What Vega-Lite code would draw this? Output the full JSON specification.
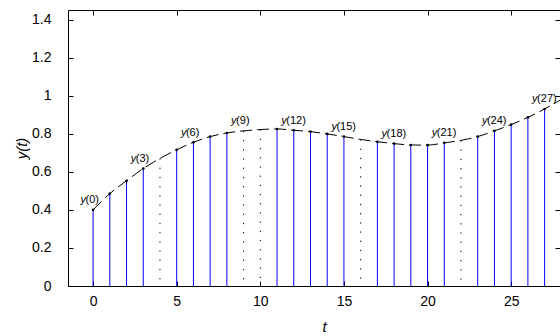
{
  "$schema": "https://vega.github.io/schema/vega-lite/v6.json",
  "autosize": {"type": "none"},
  "padding": {"left": 68, "top": 10, "right": 0, "bottom": 50},
  "width": 492,
  "height": 276,
  "config": {
    "view": {"stroke": "black", "strokeWidth": 1},
    "font": "Liberation Sans",
    "axis": {"domain": false, "grid": false, "tickColor": "black", "tickSize": -5, "labelColor": "black", "titleColor": "black", "labelFont": "Liberation Sans", "titleFont": "Liberation Sans", "labelFontSize": 14, "titleFontSize": 15, "titleFontWeight": "normal", "titleFontStyle": "italic", "format": "~g"}
  },
  "data": {"values": [
    {"t": 0, "y": 0.4, "stem": "solid", "lab": "(0)"},
    {"t": 1, "y": 0.485, "stem": "solid"},
    {"t": 2, "y": 0.553, "stem": "solid"},
    {"t": 3, "y": 0.617, "stem": "solid", "lab": "(3)"},
    {"t": 4, "y": 0.67, "stem": "dotted"},
    {"t": 5, "y": 0.716, "stem": "solid"},
    {"t": 6, "y": 0.755, "stem": "solid", "lab": "(6)"},
    {"t": 7, "y": 0.785, "stem": "solid"},
    {"t": 8, "y": 0.804, "stem": "solid"},
    {"t": 9, "y": 0.815, "stem": "dotted", "lab": "(9)"},
    {"t": 10, "y": 0.822, "stem": "dotted"},
    {"t": 11, "y": 0.825, "stem": "solid"},
    {"t": 12, "y": 0.818, "stem": "solid", "lab": "(12)"},
    {"t": 13, "y": 0.811, "stem": "solid"},
    {"t": 14, "y": 0.799, "stem": "solid"},
    {"t": 15, "y": 0.785, "stem": "solid", "lab": "(15)"},
    {"t": 16, "y": 0.77, "stem": "dotted"},
    {"t": 17, "y": 0.758, "stem": "solid"},
    {"t": 18, "y": 0.748, "stem": "solid", "lab": "(18)"},
    {"t": 19, "y": 0.741, "stem": "solid"},
    {"t": 20, "y": 0.74, "stem": "solid"},
    {"t": 21, "y": 0.752, "stem": "solid", "lab": "(21)"},
    {"t": 22, "y": 0.765, "stem": "dotted"},
    {"t": 23, "y": 0.785, "stem": "solid"},
    {"t": 24, "y": 0.815, "stem": "solid", "lab": "(24)"},
    {"t": 25, "y": 0.848, "stem": "solid"},
    {"t": 26, "y": 0.886, "stem": "solid"},
    {"t": 27, "y": 0.93, "stem": "solid", "lab": "(27)"},
    {"t": 28, "y": 0.98, "stem": "none"}
  ]},
  "resolve": {"axis": {"x": "independent", "y": "independent"}},
  "layer": [
    {
      "transform": [{"filter": "datum.stem === 'solid'"}],
      "mark": {"type": "rule", "color": "#0000ff", "strokeWidth": 1},
      "encoding": {
        "x": {"field": "t", "type": "quantitative", "scale": {"domain": [-1.5, 27.92], "nice": false, "zero": false},
              "axis": {"values": [0, 5, 10, 15, 20, 25], "title": "t", "labelPadding": 13, "titlePadding": 11, "titleX": 256}},
        "y": {"field": "y", "type": "quantitative", "scale": {"domain": [0, 1.45], "nice": false},
              "axis": {"values": [0, 0.2, 0.4, 0.6, 0.8, 1, 1.2, 1.4], "title": "y(t)", "labelPadding": 22, "titlePadding": 2}},
        "y2": {"datum": 0}
      }
    },
    {
      "transform": [{"filter": "datum.stem === 'dotted'"}],
      "mark": {"type": "rule", "color": "black", "strokeWidth": 1, "strokeDash": [1.3, 7.9]},
      "encoding": {
        "x": {"field": "t", "type": "quantitative", "axis": {"orient": "top", "values": [0, 5, 10, 15, 20, 25], "labels": false, "title": null}},
        "y": {"field": "y", "type": "quantitative", "axis": {"orient": "right", "values": [0, 0.2, 0.4, 0.6, 0.8, 1, 1.2, 1.4], "labels": false, "title": null}},
        "y2": {"datum": 0}
      }
    },
    {
      "mark": {"type": "line", "color": "black", "strokeWidth": 1, "strokeDash": [12, 5], "interpolate": "monotone", "clip": true},
      "encoding": {
        "x": {"field": "t", "type": "quantitative", "axis": null},
        "y": {"field": "y", "type": "quantitative", "axis": null}
      }
    },
    {
      "transform": [{"filter": "datum.stem === 'solid'"}],
      "mark": {"type": "point", "filled": true, "color": "black", "size": 7, "opacity": 1},
      "encoding": {
        "x": {"field": "t", "type": "quantitative", "axis": null},
        "y": {"field": "y", "type": "quantitative", "axis": null}
      }
    },
    {
      "transform": [{"filter": "isValid(datum.lab)"}],
      "mark": {"type": "text", "text": "y", "fontStyle": "italic", "fontSize": 11, "align": "right", "baseline": "alphabetic", "dx": -7, "dy": -6.5, "color": "black"},
      "encoding": {
        "x": {"field": "t", "type": "quantitative", "axis": null},
        "y": {"field": "y", "type": "quantitative", "axis": null}
      }
    },
    {
      "transform": [{"filter": "isValid(datum.lab)"}],
      "mark": {"type": "text", "fontSize": 11, "align": "left", "baseline": "alphabetic", "dx": -7.5, "dy": -6.5, "color": "black"},
      "encoding": {
        "x": {"field": "t", "type": "quantitative", "axis": null},
        "y": {"field": "y", "type": "quantitative", "axis": null},
        "text": {"field": "lab"}
      }
    }
  ]
}
